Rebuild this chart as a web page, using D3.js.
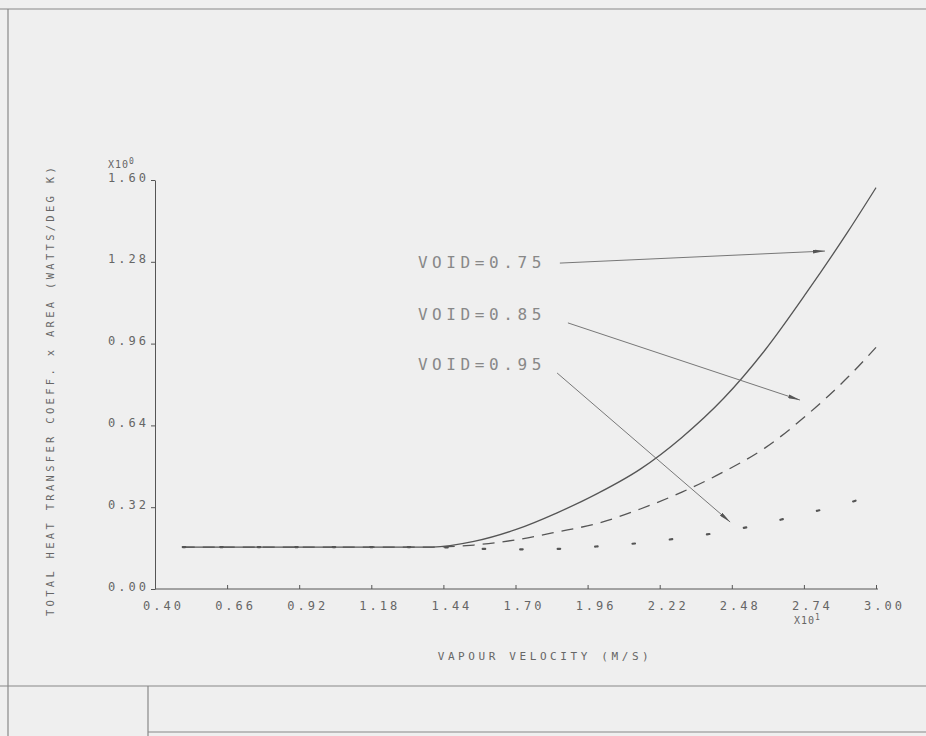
<!DOCTYPE html>
<html>
<head>
<meta charset="utf-8">
<script src="https://cdn.jsdelivr.net/npm/d3@7"></script>
<style>
  body { margin: 0; background: #efefef; }
  svg { display: block; }
  text { font-family: "DejaVu Sans Mono", monospace; fill: #666; }
</style>
</head>
<body>
<svg id="chart" width="926" height="736"></svg>
<script>
// vapour velocity (x10^1 m/s) and heat transfer coeff x area (x10^0 W/K)
const velocity = [0.50, 1.40, 1.55, 1.70, 1.85, 2.00, 2.15, 2.30, 2.45, 2.60, 2.75, 2.90, 3.00];
const void075 = [0.164, 0.164, 0.186, 0.232, 0.298, 0.376, 0.469, 0.593, 0.745, 0.935, 1.160, 1.400, 1.570];
const void085 = [0.164, 0.164, 0.172, 0.192, 0.223, 0.258, 0.313, 0.379, 0.458, 0.552, 0.680, 0.830, 0.945];
const void095 = [0.164, 0.164, 0.158, 0.155, 0.157, 0.167, 0.180, 0.200, 0.224, 0.257, 0.296, 0.337, 0.370];

const xTicks = [0.40, 0.66, 0.92, 1.18, 1.44, 1.70, 1.96, 2.22, 2.48, 2.74, 3.00];
const yTicks = [0.00, 0.32, 0.64, 0.96, 1.28, 1.60];

// labels: text, text position, arrow start, arrow end
const notes = [
  { label: "VOID=0.75", tx: 1.348, ty: 1.256, x1: 1.860, y1: 1.275, x2: 2.816, y2: 1.322 },
  { label: "VOID=0.85", tx: 1.348, ty: 1.052, x1: 1.889, y1: 1.041, x2: 2.726, y2: 0.739 },
  { label: "VOID=0.95", tx: 1.348, ty: 0.857, x1: 1.850, y1: 0.845, x2: 2.474, y2: 0.262 }
];

const svg = d3.select("#chart");
const ink = "#555";

// scan frame
svg.append("g")
  .attr("stroke", "#888")
  .attr("stroke-width", 1.2)
  .selectAll("line")
  .data([[0, 9, 926, 9], [8, 9, 8, 736], [0, 686, 926, 686], [148, 686, 148, 736], [148, 732, 926, 732]])
  .enter()
  .append("line")
  .attr("x1", (d) => d[0])
  .attr("y1", (d) => d[1])
  .attr("x2", (d) => d[2])
  .attr("y2", (d) => d[3]);

const x = d3.scaleLinear().domain([0.40, 3.00]).range([155, 876]);
const y = d3.scaleLinear().domain([0, 1.60]).range([589, 180]);

var xAxis = (g) =>
  g
    .attr("transform", "translate(0," + y(0) + ")")
    .call(d3.axisBottom(x).tickValues(xTicks).tickSize(-4).tickSizeOuter(0).tickFormat((d) => d.toFixed(2)))
    .call((g) => g.select(".domain").attr("stroke", ink).attr("d", "M" + x(0.40) + ",0H" + (x(3.00) + 2)))
    .call((g) => g.selectAll(".tick line").attr("stroke", ink))
    .call((g) =>
      g.selectAll(".tick text")
        .attr("y", 21)
        .attr("dx", 8)
        .attr("dy", 0)
        .style("font-size", "12px")
        .style("letter-spacing", "3px")
        .style("fill", "#666")
    );

var yAxis = (g) =>
  g
    .attr("transform", "translate(" + x(0.40) + ",0)")
    .call(d3.axisLeft(y).tickValues(yTicks).tickSize(4).tickSizeOuter(0).tickFormat((d) => d.toFixed(2)))
    .call((g) => g.select(".domain").attr("stroke", ink))
    .call((g) => g.selectAll(".tick line").attr("stroke", ink))
    .call((g) =>
      g.selectAll(".tick text")
        .attr("x", -6)
        .attr("dy", 1)
        .style("font-size", "12px")
        .style("letter-spacing", "3px")
        .style("fill", "#666")
    );

svg.append("g").attr("class", "x-axis").call(xAxis);
svg.append("g").attr("class", "y-axis").call(yAxis);

svg.selectAll(".tick text").attr("font-family", null);

// exponents
svg.append("text")
  .attr("x", 108)
  .attr("y", 168)
  .style("font-size", "10px")
  .style("letter-spacing", "1px")
  .html('X10<tspan dy="-4" font-size="8">0</tspan>');

svg.append("text")
  .attr("x", 794)
  .attr("y", 624)
  .style("font-size", "10px")
  .style("letter-spacing", "1px")
  .html('X10<tspan dy="-4" font-size="8">1</tspan>');

// axis titles
svg.append("text")
  .attr("x", 545)
  .attr("y", 660)
  .attr("text-anchor", "middle")
  .style("font-size", "11px")
  .style("letter-spacing", "3.6px")
  .text("VAPOUR VELOCITY (M/S)");

svg.append("text")
  .attr("transform", "translate(54,390) rotate(-90)")
  .attr("text-anchor", "middle")
  .style("font-size", "10.5px")
  .style("letter-spacing", "3.3px")
  .text("TOTAL HEAT TRANSFER COEFF. x AREA (WATTS/DEG K)");

// curves
const line = d3.line()
  .x((d) => x(d[0]))
  .y((d) => y(d[1]))
  .curve(d3.curveMonotoneX);

const series = [
  { values: void095, dash: "2.5,35", width: 2.2, cap: "round" },
  { values: void085, dash: "12,8", width: 1.3, cap: "butt" },
  { values: void075, dash: null, width: 1.3, cap: "butt" }
];

svg.selectAll(".curve")
  .data(series)
  .enter()
  .append("path")
  .attr("class", "curve")
  .attr("fill", "none")
  .attr("stroke", ink)
  .attr("stroke-width", (d) => d.width)
  .attr("stroke-linecap", (d) => d.cap)
  .attr("stroke-dasharray", (d) => d.dash)
  .attr("d", (d) => line(velocity.map((v, i) => [v, d.values[i]])));

// annotation arrows
svg.append("defs")
  .append("marker")
  .attr("id", "head")
  .attr("viewBox", "0 0 12 4")
  .attr("refX", 12)
  .attr("refY", 2)
  .attr("markerWidth", 12)
  .attr("markerHeight", 4)
  .attr("markerUnits", "userSpaceOnUse")
  .attr("orient", "auto")
  .append("path")
  .attr("d", "M0,0L12,2L0,4Z")
  .attr("fill", "#555");

svg.selectAll(".arrow")
  .data(notes)
  .enter()
  .append("line")
  .attr("class", "arrow")
  .attr("stroke", "#777")
  .attr("stroke-width", 1)
  .attr("x1", (d) => x(d.x1))
  .attr("y1", (d) => y(d.y1))
  .attr("x2", (d) => x(d.x2))
  .attr("y2", (d) => y(d.y2))
  .attr("marker-end", "url(#head)");

svg.selectAll(".note")
  .data(notes)
  .enter()
  .append("text")
  .attr("class", "note")
  .attr("x", (d) => x(d.tx))
  .attr("y", (d) => y(d.ty))
  .style("font-size", "16px")
  .style("letter-spacing", "4.6px")
  .style("fill", "#888")
  .text((d) => d.label);
</script>
</body>
</html>
